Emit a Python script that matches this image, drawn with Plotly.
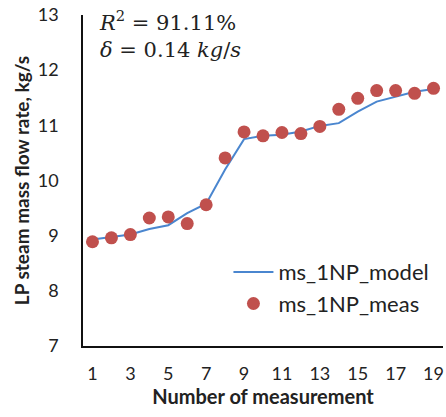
import plotly.graph_objects as go

measurement = list(range(1, 20))
model_vals = [8.93, 8.98, 9.02, 9.12, 9.19, 9.41, 9.58, 10.20, 10.75, 10.81,
              10.83, 10.89, 10.99, 11.04, 11.25, 11.43, 11.52, 11.61, 11.66]
meas_vals = [8.89, 8.96, 9.02, 9.32, 9.34, 9.22, 9.56, 10.41, 10.88, 10.81,
             10.87, 10.85, 10.98, 11.29, 11.49, 11.63, 11.63, 11.58, 11.67]
x_ticks = [1, 3, 5, 7, 9, 11, 13, 15, 17, 19]
y_ticks = [7, 8, 9, 10, 11, 12, 13]

fig = go.Figure()
fig.add_trace(go.Scatter(x=measurement, y=model_vals, mode="lines",
                         name="ms_1NP_model",
                         line=dict(color="#4A86CF", width=2)))
fig.add_trace(go.Scatter(x=measurement, y=meas_vals, mode="markers",
                         name="ms_1NP_meas",
                         marker=dict(color="#C0504D", size=13,
                                     line=dict(width=0))))

fig.update_layout(
    width=446, height=417,
    margin=dict(l=83, r=3, t=15, b=71),
    plot_bgcolor="white", paper_bgcolor="white",
    font=dict(family="Lato, Open Sans, sans-serif", color="#222222"),
    showlegend=True,
    legend=dict(x=0.404, y=0.175, xanchor="left", yanchor="middle",
                bgcolor="rgba(0,0,0,0)", font=dict(size=22),
                itemwidth=40, tracegroupgap=0),
    xaxis=dict(range=[0.5, 19.5], tickvals=x_ticks, showgrid=False,
               zeroline=False, showline=True, linecolor="#111111", linewidth=1.5,
               ticks="", tickfont=dict(size=18), ticklabelstandoff=11,
               automargin=False,
               title=dict(text="<b>Number of measurement</b>",
                          font=dict(size=20), standoff=4)),
    yaxis=dict(range=[7, 13], tickvals=y_ticks, showgrid=False,
               zeroline=False, showline=True, linecolor="#111111", linewidth=1.5,
               ticks="", tickfont=dict(size=18), ticklabelstandoff=19,
               automargin=False,
               title=dict(text="<b>LP steam mass flow rate, kg/s</b>",
                          font=dict(size=19), standoff=3)),
    annotations=[
        dict(x=0.04, y=1.03, xref="paper", yref="paper", xanchor="left",
             yanchor="top", showarrow=False, align="left",
             font=dict(family="DejaVu Serif, Liberation Serif, serif",
                       size=21, color="#222222"),
             text="<i>R</i><sup>2</sup> = 91.11%<br><i>δ</i> = 0.14 <i>kg</i>/<i>s</i>"),
    ],
)

fig.write_html("out.html", config={"displayModeBar": False},
               post_script="document.body.style.margin='0';document.body.style.overflow='hidden';")
